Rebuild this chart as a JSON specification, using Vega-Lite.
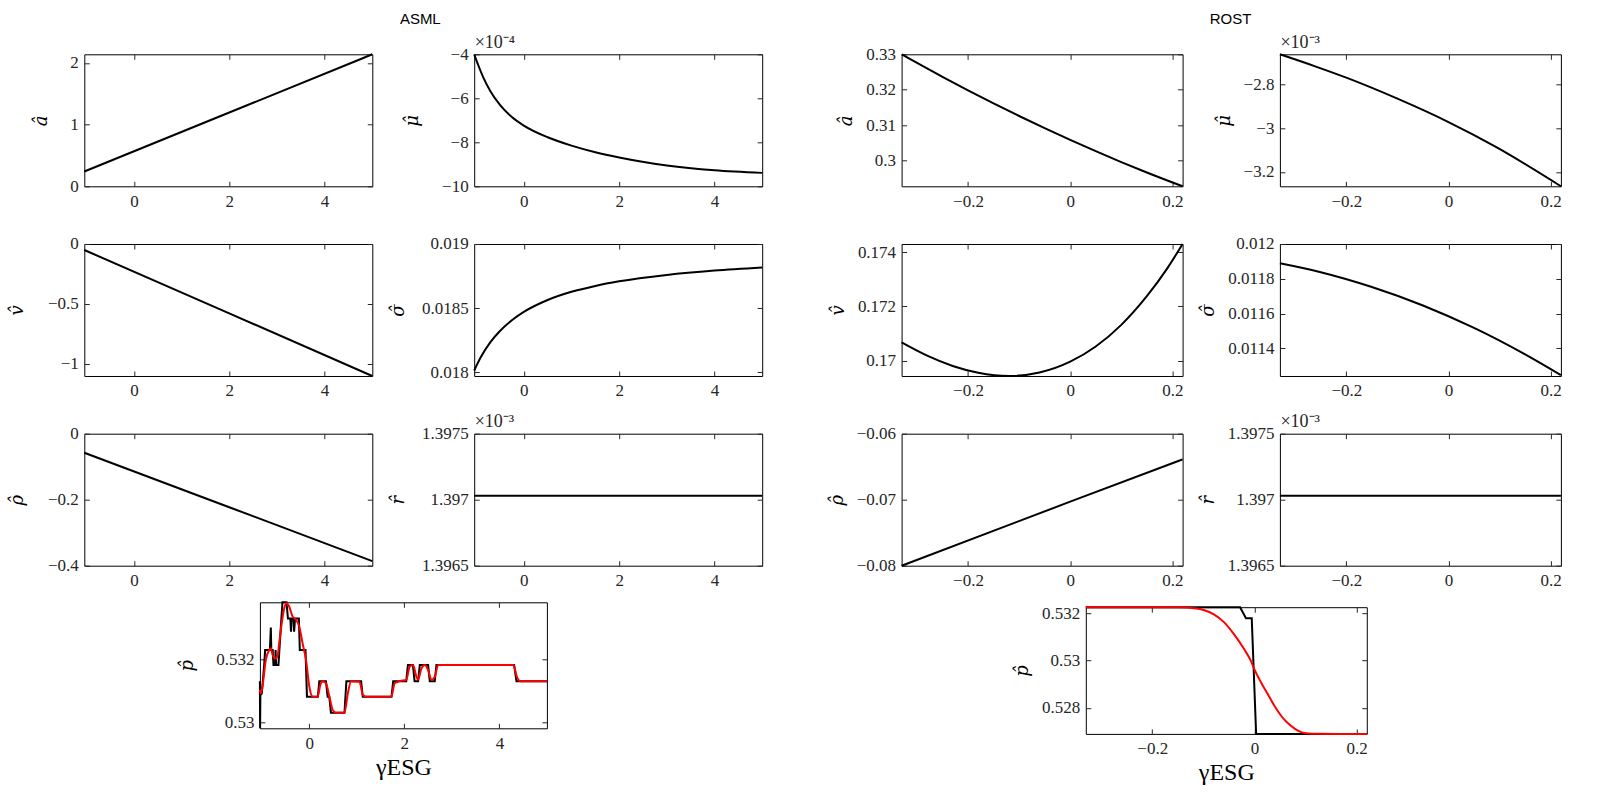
{
"$schema": "https://vega.github.io/schema/vega-lite/v6.json",
"background": "white",
"padding": {"left": 7.3, "top": 11.3, "right": 5, "bottom": 5},
"config": {
  "view": {"stroke": "#000", "strokeWidth": 1},
  "axis": {"grid": false, "domain": false, "tickSize": -5, "tickColor": "#262626", "tickWidth": 1, "labelFont": "Liberation Serif", "labelFontSize": 17, "labelColor": "#262626", "labelPadding": 11, "labelFlush": false, "titleFont": "DejaVu Serif", "titleFontSize": 18, "titleFontStyle": "italic", "titleFontWeight": "normal", "titleColor": "#000", "titlePadding": 10, "minExtent": 20},
  "axisX": {"labelPadding": 12, "minExtent": 0},
  "title": {"font": "Liberation Sans", "fontWeight": "normal", "fontSize": 15, "color": "#000"}
},
"datasets": {
  "a_asml": [{"g": -1.04, "v": 0.24}, {"g": 2, "v": 1.196}, {"g": 5, "v": 2.14}],
  "mu_asml": [{"g": -1.04, "v": -0.0004}, {"g": -0.95, "v": -0.000452}, {"g": -0.85, "v": -0.000505}, {"g": -0.7, "v": -0.000568}, {"g": -0.5, "v": -0.00063}, {"g": -0.25, "v": -0.000685}, {"g": 0, "v": -0.000724}, {"g": 0.5, "v": -0.000777}, {"g": 1, "v": -0.000815}, {"g": 1.5, "v": -0.000845}, {"g": 2, "v": -0.000869}, {"g": 3, "v": -0.000905}, {"g": 4, "v": -0.000927}, {"g": 5, "v": -0.000939}],
  "v_asml": [{"g": -1.04, "v": -0.05}, {"g": 2, "v": -0.578}, {"g": 5, "v": -1.1}],
  "s_asml": [{"g": -1.04, "v": 0.018013}, {"g": -0.9, "v": 0.018118}, {"g": -0.7, "v": 0.018234}, {"g": -0.5, "v": 0.018321}, {"g": -0.25, "v": 0.018405}, {"g": 0, "v": 0.01847}, {"g": 0.5, "v": 0.018563}, {"g": 1, "v": 0.018627}, {"g": 1.5, "v": 0.018673}, {"g": 2, "v": 0.018709}, {"g": 3, "v": 0.018759}, {"g": 4, "v": 0.018793}, {"g": 5, "v": 0.018817}],
  "rho_asml": [{"g": -1.04, "v": -0.0576}, {"g": 2, "v": -0.2228}, {"g": 5, "v": -0.386}],
  "r_asml": [{"g": -1.04, "v": 0.00139703}, {"g": 5, "v": 0.00139703}],
  "p_asml_k": [{"g": -1.04, "v": 0.53131}, {"g": -1.036, "v": 0.52982}, {"g": -1.03, "v": 0.53087}, {"g": -1.0, "v": 0.53092}, {"g": -0.99, "v": 0.5311}, {"g": -0.95, "v": 0.53182}, {"g": -0.93, "v": 0.53229}, {"g": -0.83, "v": 0.53229}, {"g": -0.81, "v": 0.533}, {"g": -0.8, "v": 0.53229}, {"g": -0.77, "v": 0.53229}, {"g": -0.755, "v": 0.53182}, {"g": -0.72, "v": 0.53182}, {"g": -0.71, "v": 0.53229}, {"g": -0.7, "v": 0.53182}, {"g": -0.65, "v": 0.53182}, {"g": -0.6, "v": 0.533}, {"g": -0.565, "v": 0.5338}, {"g": -0.48, "v": 0.5338}, {"g": -0.45, "v": 0.53329}, {"g": -0.4, "v": 0.53329}, {"g": -0.385, "v": 0.53287}, {"g": -0.37, "v": 0.53329}, {"g": -0.33, "v": 0.53329}, {"g": -0.32, "v": 0.53287}, {"g": -0.3, "v": 0.53329}, {"g": -0.22, "v": 0.53329}, {"g": -0.2, "v": 0.53229}, {"g": -0.08, "v": 0.53229}, {"g": -0.05, "v": 0.53082}, {"g": 0.18, "v": 0.53082}, {"g": 0.21, "v": 0.53131}, {"g": 0.35, "v": 0.53131}, {"g": 0.385, "v": 0.53082}, {"g": 0.42, "v": 0.53082}, {"g": 0.455, "v": 0.53031}, {"g": 0.74, "v": 0.53031}, {"g": 0.78, "v": 0.53131}, {"g": 1.09, "v": 0.53131}, {"g": 1.125, "v": 0.53082}, {"g": 1.73, "v": 0.53082}, {"g": 1.765, "v": 0.53131}, {"g": 2.04, "v": 0.53131}, {"g": 2.075, "v": 0.53182}, {"g": 2.18, "v": 0.53182}, {"g": 2.215, "v": 0.53131}, {"g": 2.29, "v": 0.53131}, {"g": 2.325, "v": 0.53182}, {"g": 2.5, "v": 0.53182}, {"g": 2.535, "v": 0.53131}, {"g": 2.64, "v": 0.53131}, {"g": 2.675, "v": 0.53182}, {"g": 4.31, "v": 0.53182}, {"g": 4.36, "v": 0.53131}, {"g": 5, "v": 0.53131}],
  "p_asml_r": [{"g": -1.04, "v": 0.53103}, {"g": -1.02, "v": 0.53092}, {"g": -0.99, "v": 0.5311}, {"g": -0.915, "v": 0.53198}, {"g": -0.845, "v": 0.53229}, {"g": -0.81, "v": 0.53235}, {"g": -0.775, "v": 0.53215}, {"g": -0.739, "v": 0.53203}, {"g": -0.704, "v": 0.53203}, {"g": -0.669, "v": 0.5321}, {"g": -0.634, "v": 0.5325}, {"g": -0.599, "v": 0.53293}, {"g": -0.528, "v": 0.53361}, {"g": -0.479, "v": 0.53377}, {"g": -0.423, "v": 0.53366}, {"g": -0.352, "v": 0.53335}, {"g": -0.282, "v": 0.53326}, {"g": -0.211, "v": 0.53303}, {"g": -0.141, "v": 0.5325}, {"g": -0.07, "v": 0.53198}, {"g": 0, "v": 0.53114}, {"g": 0.07, "v": 0.53082}, {"g": 0.176, "v": 0.53082}, {"g": 0.232, "v": 0.53119}, {"g": 0.282, "v": 0.53131}, {"g": 0.352, "v": 0.53124}, {"g": 0.423, "v": 0.53082}, {"g": 0.493, "v": 0.5304}, {"g": 0.563, "v": 0.53031}, {"g": 0.739, "v": 0.53031}, {"g": 0.81, "v": 0.53092}, {"g": 0.88, "v": 0.53131}, {"g": 1.056, "v": 0.53129}, {"g": 1.127, "v": 0.53087}, {"g": 1.197, "v": 0.53082}, {"g": 1.725, "v": 0.53082}, {"g": 1.796, "v": 0.53124}, {"g": 1.902, "v": 0.53131}, {"g": 2.042, "v": 0.53135}, {"g": 2.113, "v": 0.53177}, {"g": 2.183, "v": 0.53182}, {"g": 2.254, "v": 0.53145}, {"g": 2.289, "v": 0.53135}, {"g": 2.359, "v": 0.53171}, {"g": 2.43, "v": 0.53182}, {"g": 2.5, "v": 0.53166}, {"g": 2.57, "v": 0.53135}, {"g": 2.641, "v": 0.53145}, {"g": 2.711, "v": 0.53182}, {"g": 4.296, "v": 0.53182}, {"g": 4.367, "v": 0.53145}, {"g": 4.437, "v": 0.53131}, {"g": 5, "v": 0.53131}],
  "a_rost": [{"g": -0.33, "v": 0.33}, {"g": -0.25, "v": 0.32364}, {"g": -0.2, "v": 0.31982}, {"g": -0.15, "v": 0.31613}, {"g": -0.1, "v": 0.31257}, {"g": -0.05, "v": 0.30912}, {"g": 0, "v": 0.30581}, {"g": 0.05, "v": 0.30262}, {"g": 0.1, "v": 0.29955}, {"g": 0.15, "v": 0.29661}, {"g": 0.22, "v": 0.2927}],
  "mu_rost": [{"g": -0.33, "v": -0.0026626}, {"g": -0.261, "v": -0.0027176}, {"g": -0.2, "v": -0.0027695}, {"g": -0.0999, "v": -0.0028656}, {"g": 0, "v": -0.0029725}, {"g": 0.0936, "v": -0.003087}, {"g": 0.22, "v": -0.0032657}],
  "v_rost": [{"g": -0.33, "v": 0.17067}, {"g": -0.28, "v": 0.17018}, {"g": -0.23, "v": 0.1698}, {"g": -0.18, "v": 0.16955}, {"g": -0.12, "v": 0.16943}, {"g": -0.06, "v": 0.16956}, {"g": 0, "v": 0.16996}, {"g": 0.05, "v": 0.17052}, {"g": 0.1, "v": 0.17132}, {"g": 0.15, "v": 0.17238}, {"g": 0.19, "v": 0.17341}, {"g": 0.22, "v": 0.17431}],
  "s_rost": [{"g": -0.33, "v": 0.011889}, {"g": -0.25, "v": 0.011838}, {"g": -0.15, "v": 0.011753}, {"g": -0.05, "v": 0.011647}, {"g": 0.05, "v": 0.011518}, {"g": 0.15, "v": 0.011366}, {"g": 0.22, "v": 0.011247}],
  "rho_rost": [{"g": -0.33, "v": -0.08}, {"g": 0, "v": -0.0703}, {"g": 0.22, "v": -0.0639}],
  "r_rost": [{"g": -0.33, "v": 0.00139703}, {"g": 0.22, "v": 0.00139703}],
  "p_rost_k": [{"g": -0.33, "v": 0.53225}, {"g": -0.028, "v": 0.53225}, {"g": -0.0165, "v": 0.53178}, {"g": -0.0052, "v": 0.53178}, {"g": 0.0034, "v": 0.526894}, {"g": 0.22, "v": 0.526894}],
  "p_rost_r": [{"g": -0.33, "v": 0.53225}, {"g": -0.15, "v": 0.53225}, {"g": -0.1323, "v": 0.53224}, {"g": -0.1192, "v": 0.53221}, {"g": -0.0993, "v": 0.53213}, {"g": -0.0794, "v": 0.53195}, {"g": -0.0596, "v": 0.53162}, {"g": -0.0397, "v": 0.5311}, {"g": -0.0199, "v": 0.53047}, {"g": -0.0066, "v": 0.52997}, {"g": 0, "v": 0.52962}, {"g": 0.0133, "v": 0.52906}, {"g": 0.0266, "v": 0.52856}, {"g": 0.0397, "v": 0.52806}, {"g": 0.053, "v": 0.52764}, {"g": 0.0663, "v": 0.52733}, {"g": 0.0794, "v": 0.52711}, {"g": 0.0927, "v": 0.52696}, {"g": 0.106, "v": 0.52691}, {"g": 0.12, "v": 0.526895}, {"g": 0.22, "v": 0.526894}]
},
"hconcat": [
{
  "title": {"text": "ASML", "frame": "group", "anchor": "start", "align": "center", "dx": 336, "offset": -5.9, "baseline": "alphabetic"},
  "spacing": 8.0,
  "vconcat": [
  {
    "columns": 2,
    "spacing": {"row": 11.7, "column": 10.9},
    "concat": [
      {
        "width": 288, "height": 132, "data": {"name": "a_asml"},
        "layer": [
          {"mark": {"type": "line", "color": "#000", "strokeWidth": 2, "interpolate": "monotone"},
           "encoding": {
             "x": {"field": "g", "type": "quantitative", "scale": {"domain": [-1.04, 5], "nice": false, "zero": false}, "axis": {"values": [0, 2, 4], "format": "~g", "title": null}},
             "y": {"field": "v", "type": "quantitative", "scale": {"domain": [0, 2.14], "nice": false, "zero": false}, "axis": {"values": [0, 1, 2], "format": "~g", "title": "â", "titleX": -34, "titleBaseline": "bottom"}}}},
          {"mark": {"type": "line", "strokeOpacity": 0},
           "encoding": {
             "x": {"field": "g", "type": "quantitative", "scale": {"domain": [-1.04, 5], "nice": false, "zero": false}, "axis": {"orient": "top", "values": [0, 2, 4], "labels": false, "title": null}},
             "y": {"field": "v", "type": "quantitative", "scale": {"domain": [0, 2.14], "nice": false, "zero": false}, "axis": {"orient": "right", "values": [0, 1, 2], "labels": false, "title": null, "minExtent": 0}}}}
        ],
        "resolve": {"axis": {"x": "independent", "y": "independent"}}
      },
      {
        "width": 288, "height": 132, "data": {"name": "mu_asml"},
        "layer": [
          {"mark": {"type": "line", "color": "#000", "strokeWidth": 2, "interpolate": "monotone"},
           "encoding": {
             "x": {"field": "g", "type": "quantitative", "scale": {"domain": [-1.04, 5], "nice": false, "zero": false}, "axis": {"values": [0, 2, 4], "format": "~g", "title": null}},
             "y": {"field": "v", "type": "quantitative", "scale": {"domain": [-0.001, -0.0004], "nice": false, "zero": false}, "axis": {"values": [-0.001, -0.0008, -0.0006, -0.0004], "labelExpr": "format(datum.value*10000, '.2~f')", "title": "μ̂", "titleX": -53, "titleBaseline": "bottom"}}}},
          {"mark": {"type": "line", "strokeOpacity": 0},
           "encoding": {
             "x": {"field": "g", "type": "quantitative", "scale": {"domain": [-1.04, 5], "nice": false, "zero": false}, "axis": {"orient": "top", "values": [0, 2, 4], "labels": false, "title": "×10⁻⁴", "titleX": 0, "titleY": -7, "titleAlign": "left", "titleAnchor": "start", "titleBaseline": "alphabetic", "titleAngle": 0, "titleFont": "Liberation Serif", "titleFontStyle": "normal", "titleFontSize": 18, "titleColor": "#262626"}},
             "y": {"field": "v", "type": "quantitative", "scale": {"domain": [-0.001, -0.0004], "nice": false, "zero": false}, "axis": {"orient": "right", "values": [-0.001, -0.0008, -0.0006, -0.0004], "labels": false, "title": null, "minExtent": 0}}}}
        ],
        "resolve": {"axis": {"x": "independent", "y": "independent"}}
      },
      {
        "width": 288, "height": 132, "data": {"name": "v_asml"},
        "layer": [
          {"mark": {"type": "line", "color": "#000", "strokeWidth": 2, "interpolate": "monotone"},
           "encoding": {
             "x": {"field": "g", "type": "quantitative", "scale": {"domain": [-1.04, 5], "nice": false, "zero": false}, "axis": {"values": [0, 2, 4], "format": "~g", "title": null}},
             "y": {"field": "v", "type": "quantitative", "scale": {"domain": [-1.1, 0], "nice": false, "zero": false}, "axis": {"values": [-1, -0.5, 0], "format": "~g", "title": "v̂", "titleX": -58, "titleBaseline": "bottom"}}}},
          {"mark": {"type": "line", "strokeOpacity": 0},
           "encoding": {
             "x": {"field": "g", "type": "quantitative", "scale": {"domain": [-1.04, 5], "nice": false, "zero": false}, "axis": {"orient": "top", "values": [0, 2, 4], "labels": false, "title": null}},
             "y": {"field": "v", "type": "quantitative", "scale": {"domain": [-1.1, 0], "nice": false, "zero": false}, "axis": {"orient": "right", "values": [-1, -0.5, 0], "labels": false, "title": null, "minExtent": 0}}}}
        ],
        "resolve": {"axis": {"x": "independent", "y": "independent"}}
      },
      {
        "width": 288, "height": 132, "data": {"name": "s_asml"},
        "layer": [
          {"mark": {"type": "line", "color": "#000", "strokeWidth": 2, "interpolate": "monotone"},
           "encoding": {
             "x": {"field": "g", "type": "quantitative", "scale": {"domain": [-1.04, 5], "nice": false, "zero": false}, "axis": {"values": [0, 2, 4], "format": "~g", "title": null}},
             "y": {"field": "v", "type": "quantitative", "scale": {"domain": [0.01797, 0.019], "nice": false, "zero": false}, "axis": {"values": [0.018, 0.0185, 0.019], "format": "~g", "title": "σ̂", "titleX": -67, "titleBaseline": "bottom"}}}},
          {"mark": {"type": "line", "strokeOpacity": 0},
           "encoding": {
             "x": {"field": "g", "type": "quantitative", "scale": {"domain": [-1.04, 5], "nice": false, "zero": false}, "axis": {"orient": "top", "values": [0, 2, 4], "labels": false, "title": " ", "titleX": 0, "titleY": -7, "titleAlign": "left", "titleAnchor": "start", "titleBaseline": "alphabetic", "titleAngle": 0, "titleFont": "Liberation Serif", "titleFontStyle": "normal", "titleFontSize": 18}},
             "y": {"field": "v", "type": "quantitative", "scale": {"domain": [0.01797, 0.019], "nice": false, "zero": false}, "axis": {"orient": "right", "values": [0.018, 0.0185, 0.019], "labels": false, "title": null, "minExtent": 0}}}}
        ],
        "resolve": {"axis": {"x": "independent", "y": "independent"}}
      },
      {
        "width": 288, "height": 132, "data": {"name": "rho_asml"},
        "layer": [
          {"mark": {"type": "line", "color": "#000", "strokeWidth": 2, "interpolate": "monotone"},
           "encoding": {
             "x": {"field": "g", "type": "quantitative", "scale": {"domain": [-1.04, 5], "nice": false, "zero": false}, "axis": {"values": [0, 2, 4], "format": "~g", "title": null}},
             "y": {"field": "v", "type": "quantitative", "scale": {"domain": [-0.4, 0], "nice": false, "zero": false}, "axis": {"values": [-0.4, -0.2, 0], "format": "~g", "title": "ρ̂", "titleX": -58, "titleBaseline": "bottom"}}}},
          {"mark": {"type": "line", "strokeOpacity": 0},
           "encoding": {
             "x": {"field": "g", "type": "quantitative", "scale": {"domain": [-1.04, 5], "nice": false, "zero": false}, "axis": {"orient": "top", "values": [0, 2, 4], "labels": false, "title": null}},
             "y": {"field": "v", "type": "quantitative", "scale": {"domain": [-0.4, 0], "nice": false, "zero": false}, "axis": {"orient": "right", "values": [-0.4, -0.2, 0], "labels": false, "title": null, "minExtent": 0}}}}
        ],
        "resolve": {"axis": {"x": "independent", "y": "independent"}}
      },
      {
        "width": 288, "height": 132, "data": {"name": "r_asml"},
        "layer": [
          {"mark": {"type": "line", "color": "#000", "strokeWidth": 2},
           "encoding": {
             "x": {"field": "g", "type": "quantitative", "scale": {"domain": [-1.04, 5], "nice": false, "zero": false}, "axis": {"values": [0, 2, 4], "format": "~g", "title": null}},
             "y": {"field": "v", "type": "quantitative", "scale": {"domain": [0.0013965, 0.0013975], "nice": false, "zero": false}, "axis": {"values": [0.0013965, 0.001397, 0.0013975], "labelExpr": "format(datum.value*1000, '.4~f')", "title": "r̂", "titleX": -67, "titleBaseline": "bottom"}}}},
          {"mark": {"type": "line", "strokeOpacity": 0},
           "encoding": {
             "x": {"field": "g", "type": "quantitative", "scale": {"domain": [-1.04, 5], "nice": false, "zero": false}, "axis": {"orient": "top", "values": [0, 2, 4], "labels": false, "title": "×10⁻³", "titleX": 0, "titleY": -7, "titleAlign": "left", "titleAnchor": "start", "titleBaseline": "alphabetic", "titleAngle": 0, "titleFont": "Liberation Serif", "titleFontStyle": "normal", "titleFontSize": 18, "titleColor": "#262626"}},
             "y": {"field": "v", "type": "quantitative", "scale": {"domain": [0.0013965, 0.0013975], "nice": false, "zero": false}, "axis": {"orient": "right", "values": [0.0013965, 0.001397, 0.0013975], "labels": false, "title": null, "minExtent": 0}}}}
        ],
        "resolve": {"axis": {"x": "independent", "y": "independent"}}
      }
    ]
  },
  {
    "spacing": 92.6,
    "hconcat": [
      {"width": 1, "height": 1, "data": {"values": []}, "mark": "point", "view": {"stroke": null}},
      {
        "width": 287, "height": 126,
        "layer": [
          {"data": {"name": "p_asml_k"}, "mark": {"type": "line", "color": "#000", "strokeWidth": 2},
           "encoding": {
             "x": {"field": "g", "type": "quantitative", "scale": {"domain": [-1.04, 5], "nice": false, "zero": false}, "axis": {"values": [0, 2, 4], "format": "~g", "title": "γESG", "titleFont": "Liberation Serif", "titleFontStyle": "normal", "titleFontSize": 24, "titlePadding": 4}},
             "y": {"field": "v", "type": "quantitative", "scale": {"domain": [0.52982, 0.5338], "nice": false, "zero": false}, "axis": {"values": [0.53, 0.532], "format": "~g", "title": "p̂", "titleX": -63, "titleBaseline": "bottom"}}}},
          {"data": {"name": "p_asml_r"}, "mark": {"type": "line", "color": "#ff0000", "strokeWidth": 2, "interpolate": "monotone"},
           "encoding": {
             "x": {"field": "g", "type": "quantitative", "scale": {"domain": [-1.04, 5], "nice": false, "zero": false}, "axis": null},
             "y": {"field": "v", "type": "quantitative", "scale": {"domain": [0.52982, 0.5338], "nice": false, "zero": false}, "axis": null}}},
          {"data": {"name": "p_asml_k"}, "mark": {"type": "line", "strokeOpacity": 0},
           "encoding": {
             "x": {"field": "g", "type": "quantitative", "scale": {"domain": [-1.04, 5], "nice": false, "zero": false}, "axis": {"orient": "top", "values": [0, 2, 4], "labels": false, "title": null}},
             "y": {"field": "v", "type": "quantitative", "scale": {"domain": [0.52982, 0.5338], "nice": false, "zero": false}, "axis": {"orient": "right", "values": [0.53, 0.532], "labels": false, "title": null, "minExtent": 0}}}}
        ],
        "resolve": {"axis": {"x": "independent", "y": "independent"}}
      }
    ]
  }
  ]
},
{
  "title": {"text": "ROST", "frame": "group", "anchor": "start", "align": "center", "dx": 329, "offset": -5.9, "baseline": "alphabetic"},
  "spacing": 12.9,
  "vconcat": [
  {
    "columns": 2,
    "spacing": {"row": 11.7, "column": 10.3},
    "concat": [
      {
        "width": 281, "height": 132, "data": {"name": "a_rost"},
        "layer": [
          {"mark": {"type": "line", "color": "#000", "strokeWidth": 2, "interpolate": "monotone"},
           "encoding": {
             "x": {"field": "g", "type": "quantitative", "scale": {"domain": [-0.33, 0.22], "nice": false, "zero": false}, "axis": {"values": [-0.2, 0, 0.2], "format": "~g", "title": null}},
             "y": {"field": "v", "type": "quantitative", "scale": {"domain": [0.2927, 0.33], "nice": false, "zero": false}, "axis": {"values": [0.3, 0.31, 0.32, 0.33], "format": "~g", "title": "â"}}}},
          {"mark": {"type": "line", "strokeOpacity": 0},
           "encoding": {
             "x": {"field": "g", "type": "quantitative", "scale": {"domain": [-0.33, 0.22], "nice": false, "zero": false}, "axis": {"orient": "top", "values": [-0.2, 0, 0.2], "labels": false, "title": null}},
             "y": {"field": "v", "type": "quantitative", "scale": {"domain": [0.2927, 0.33], "nice": false, "zero": false}, "axis": {"orient": "right", "values": [0.3, 0.31, 0.32, 0.33], "labels": false, "title": null, "minExtent": 0}}}}
        ],
        "resolve": {"axis": {"x": "independent", "y": "independent"}}
      },
      {
        "width": 281, "height": 132, "data": {"name": "mu_rost"},
        "layer": [
          {"mark": {"type": "line", "color": "#000", "strokeWidth": 2, "interpolate": "monotone"},
           "encoding": {
             "x": {"field": "g", "type": "quantitative", "scale": {"domain": [-0.33, 0.22], "nice": false, "zero": false}, "axis": {"values": [-0.2, 0, 0.2], "format": "~g", "title": null}},
             "y": {"field": "v", "type": "quantitative", "scale": {"domain": [-0.003266, -0.0026626], "nice": false, "zero": false}, "axis": {"values": [-0.0032, -0.003, -0.0028], "labelExpr": "format(datum.value*1000, '.2~f')", "title": "μ̂"}}}},
          {"mark": {"type": "line", "strokeOpacity": 0},
           "encoding": {
             "x": {"field": "g", "type": "quantitative", "scale": {"domain": [-0.33, 0.22], "nice": false, "zero": false}, "axis": {"orient": "top", "values": [-0.2, 0, 0.2], "labels": false, "title": "×10⁻³", "titleX": 0, "titleY": -7, "titleAlign": "left", "titleAnchor": "start", "titleBaseline": "alphabetic", "titleAngle": 0, "titleFont": "Liberation Serif", "titleFontStyle": "normal", "titleFontSize": 18, "titleColor": "#262626"}},
             "y": {"field": "v", "type": "quantitative", "scale": {"domain": [-0.003266, -0.0026626], "nice": false, "zero": false}, "axis": {"orient": "right", "values": [-0.0032, -0.003, -0.0028], "labels": false, "title": null, "minExtent": 0}}}}
        ],
        "resolve": {"axis": {"x": "independent", "y": "independent"}}
      },
      {
        "width": 281, "height": 132, "data": {"name": "v_rost"},
        "layer": [
          {"mark": {"type": "line", "color": "#000", "strokeWidth": 2, "interpolate": "monotone"},
           "encoding": {
             "x": {"field": "g", "type": "quantitative", "scale": {"domain": [-0.33, 0.22], "nice": false, "zero": false}, "axis": {"values": [-0.2, 0, 0.2], "format": "~g", "title": null}},
             "y": {"field": "v", "type": "quantitative", "scale": {"domain": [0.16943, 0.17431], "nice": false, "zero": false}, "axis": {"values": [0.17, 0.172, 0.174], "format": "~g", "title": "v̂"}}}},
          {"mark": {"type": "line", "strokeOpacity": 0},
           "encoding": {
             "x": {"field": "g", "type": "quantitative", "scale": {"domain": [-0.33, 0.22], "nice": false, "zero": false}, "axis": {"orient": "top", "values": [-0.2, 0, 0.2], "labels": false, "title": null}},
             "y": {"field": "v", "type": "quantitative", "scale": {"domain": [0.16943, 0.17431], "nice": false, "zero": false}, "axis": {"orient": "right", "values": [0.17, 0.172, 0.174], "labels": false, "title": null, "minExtent": 0}}}}
        ],
        "resolve": {"axis": {"x": "independent", "y": "independent"}}
      },
      {
        "width": 281, "height": 132, "data": {"name": "s_rost"},
        "layer": [
          {"mark": {"type": "line", "color": "#000", "strokeWidth": 2, "interpolate": "monotone"},
           "encoding": {
             "x": {"field": "g", "type": "quantitative", "scale": {"domain": [-0.33, 0.22], "nice": false, "zero": false}, "axis": {"values": [-0.2, 0, 0.2], "format": "~g", "title": null}},
             "y": {"field": "v", "type": "quantitative", "scale": {"domain": [0.011242, 0.012], "nice": false, "zero": false}, "axis": {"values": [0.0114, 0.0116, 0.0118, 0.012], "format": "~g", "title": "σ̂"}}}},
          {"mark": {"type": "line", "strokeOpacity": 0},
           "encoding": {
             "x": {"field": "g", "type": "quantitative", "scale": {"domain": [-0.33, 0.22], "nice": false, "zero": false}, "axis": {"orient": "top", "values": [-0.2, 0, 0.2], "labels": false, "title": " ", "titleX": 0, "titleY": -7, "titleAlign": "left", "titleAnchor": "start", "titleBaseline": "alphabetic", "titleAngle": 0, "titleFont": "Liberation Serif", "titleFontStyle": "normal", "titleFontSize": 18}},
             "y": {"field": "v", "type": "quantitative", "scale": {"domain": [0.011242, 0.012], "nice": false, "zero": false}, "axis": {"orient": "right", "values": [0.0114, 0.0116, 0.0118, 0.012], "labels": false, "title": null, "minExtent": 0}}}}
        ],
        "resolve": {"axis": {"x": "independent", "y": "independent"}}
      },
      {
        "width": 281, "height": 132, "data": {"name": "rho_rost"},
        "layer": [
          {"mark": {"type": "line", "color": "#000", "strokeWidth": 2, "interpolate": "monotone"},
           "encoding": {
             "x": {"field": "g", "type": "quantitative", "scale": {"domain": [-0.33, 0.22], "nice": false, "zero": false}, "axis": {"values": [-0.2, 0, 0.2], "format": "~g", "title": null}},
             "y": {"field": "v", "type": "quantitative", "scale": {"domain": [-0.08, -0.06], "nice": false, "zero": false}, "axis": {"values": [-0.08, -0.07, -0.06], "format": "~g", "title": "ρ̂"}}}},
          {"mark": {"type": "line", "strokeOpacity": 0},
           "encoding": {
             "x": {"field": "g", "type": "quantitative", "scale": {"domain": [-0.33, 0.22], "nice": false, "zero": false}, "axis": {"orient": "top", "values": [-0.2, 0, 0.2], "labels": false, "title": null}},
             "y": {"field": "v", "type": "quantitative", "scale": {"domain": [-0.08, -0.06], "nice": false, "zero": false}, "axis": {"orient": "right", "values": [-0.08, -0.07, -0.06], "labels": false, "title": null, "minExtent": 0}}}}
        ],
        "resolve": {"axis": {"x": "independent", "y": "independent"}}
      },
      {
        "width": 281, "height": 132, "data": {"name": "r_rost"},
        "layer": [
          {"mark": {"type": "line", "color": "#000", "strokeWidth": 2},
           "encoding": {
             "x": {"field": "g", "type": "quantitative", "scale": {"domain": [-0.33, 0.22], "nice": false, "zero": false}, "axis": {"values": [-0.2, 0, 0.2], "format": "~g", "title": null}},
             "y": {"field": "v", "type": "quantitative", "scale": {"domain": [0.0013965, 0.0013975], "nice": false, "zero": false}, "axis": {"values": [0.0013965, 0.001397, 0.0013975], "labelExpr": "format(datum.value*1000, '.4~f')", "title": "r̂"}}}},
          {"mark": {"type": "line", "strokeOpacity": 0},
           "encoding": {
             "x": {"field": "g", "type": "quantitative", "scale": {"domain": [-0.33, 0.22], "nice": false, "zero": false}, "axis": {"orient": "top", "values": [-0.2, 0, 0.2], "labels": false, "title": "×10⁻³", "titleX": 0, "titleY": -7, "titleAlign": "left", "titleAnchor": "start", "titleBaseline": "alphabetic", "titleAngle": 0, "titleFont": "Liberation Serif", "titleFontStyle": "normal", "titleFontSize": 18, "titleColor": "#262626"}},
             "y": {"field": "v", "type": "quantitative", "scale": {"domain": [0.0013965, 0.0013975], "nice": false, "zero": false}, "axis": {"orient": "right", "values": [0.0013965, 0.001397, 0.0013975], "labels": false, "title": null, "minExtent": 0}}}}
        ],
        "resolve": {"axis": {"x": "independent", "y": "independent"}}
      }
    ]
  },
  {
    "spacing": 110.2,
    "hconcat": [
      {"width": 1, "height": 1, "data": {"values": []}, "mark": "point", "view": {"stroke": null}},
      {
        "width": 281, "height": 126.7,
        "layer": [
          {"data": {"name": "p_rost_k"}, "mark": {"type": "line", "color": "#000", "strokeWidth": 2},
           "encoding": {
             "x": {"field": "g", "type": "quantitative", "scale": {"domain": [-0.33, 0.22], "nice": false, "zero": false}, "axis": {"values": [-0.2, 0, 0.2], "format": "~g", "title": "γESG", "titleFont": "Liberation Serif", "titleFontStyle": "normal", "titleFontSize": 24, "titlePadding": 4}},
             "y": {"field": "v", "type": "quantitative", "scale": {"domain": [0.526894, 0.53225], "nice": false, "zero": false}, "axis": {"values": [0.528, 0.53, 0.532], "format": "~g", "title": "p̂"}}}},
          {"data": {"name": "p_rost_r"}, "mark": {"type": "line", "color": "#ff0000", "strokeWidth": 2, "interpolate": "monotone"},
           "encoding": {
             "x": {"field": "g", "type": "quantitative", "scale": {"domain": [-0.33, 0.22], "nice": false, "zero": false}, "axis": null},
             "y": {"field": "v", "type": "quantitative", "scale": {"domain": [0.526894, 0.53225], "nice": false, "zero": false}, "axis": null}}},
          {"data": {"name": "p_rost_k"}, "mark": {"type": "line", "strokeOpacity": 0},
           "encoding": {
             "x": {"field": "g", "type": "quantitative", "scale": {"domain": [-0.33, 0.22], "nice": false, "zero": false}, "axis": {"orient": "top", "values": [-0.2, 0, 0.2], "labels": false, "title": null}},
             "y": {"field": "v", "type": "quantitative", "scale": {"domain": [0.526894, 0.53225], "nice": false, "zero": false}, "axis": {"orient": "right", "values": [0.528, 0.53, 0.532], "labels": false, "title": null, "minExtent": 0}}}}
        ],
        "resolve": {"axis": {"x": "independent", "y": "independent"}}
      }
    ]
  }
  ]
}
],
"spacing": 60.3
}
